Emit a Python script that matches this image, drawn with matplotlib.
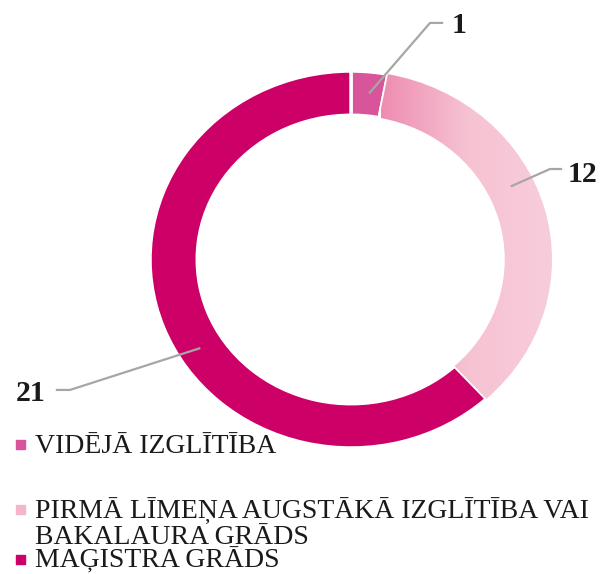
import numpy as np
import matplotlib
matplotlib.use('Agg')
import matplotlib.pyplot as plt
from matplotlib.colors import LinearSegmentedColormap
from matplotlib.patches import Rectangle

# dati
kategorijas = ['VIDĒJĀ IZGLĪTĪBA',
               'PIRMĀ LĪMEŅA AUGSTĀKĀ IZGLĪTĪBA VAI\nBAKALAURA GRĀDS',
               'MAĢISTRA GRĀDS']
vertibas = [1, 12, 21]
krasas = ['#d8559b', '#f4b6cb', '#cc0066']

plt.rcParams['font.family'] = ['Liberation Serif', 'DejaVu Serif']

fig = plt.figure(figsize=(6.07, 5.74), dpi=100)
ax = fig.add_axes([150/607, 126/574, 402/607, 377/574])

wedges, _ = ax.pie(vertibas, colors=krasas, startangle=90, counterclock=False,
                   wedgeprops=dict(width=0.235, edgecolor='white', linewidth=2.5))

# gradients otrajai daļai
grad = LinearSegmentedColormap.from_list('g', ['#ee8cb1', '#f6c2d2', '#f8cddb'])
img = ax.imshow(np.linspace(0, 1, 256).reshape(1, -1), cmap=grad, aspect='auto',
                extent=(0.15, 1.0, -1, 1), zorder=wedges[1].get_zorder())
img.set_clip_path(wedges[1])
wedges[1].set_facecolor('none')
ax.set_aspect('auto')
ax.set_xlim(-1, 1)
ax.set_ylim(-1, 1)
ax.axis('off')

# etiķetes ar līnijām
enkuri = [84, 26, 212]           # leņķis, kur sākas līnija
lauzumi = [(0.393, 1.255), (0.99, 0.48), (-1.398, -0.692)]
beigas = [0.453, 1.045, -1.463]
teksti = [(0.50, 1.20, 'left'), (1.08, 0.41, 'left'), (-1.52, -0.75, 'right')]
for i, v in enumerate(vertibas):
    a = np.deg2rad(enkuri[i])
    x0, y0 = 0.89 * np.cos(a), 0.89 * np.sin(a)
    xe, ye = lauzumi[i]
    ax.plot([x0, xe, beigas[i]], [y0, ye, ye], color='#a6a6a6', lw=1.6,
            clip_on=False, zorder=5)
    tx, ty, ha = teksti[i]
    ax.text(tx, ty, str(v), ha=ha, va='baseline', fontsize=21.5,
            fontweight='bold', color='#1a1a1a', clip_on=False)

# leģenda
leg_y = [453, 518, 568]
for i, nos in enumerate(kategorijas):
    y = 1 - leg_y[i] / 574
    fig.patches.append(Rectangle((16/607, y + 4.5/574), 9/607, 9/574,
                                 transform=fig.transFigure, color=krasas[i]))
    lines = nos.split('\n')
    for j, l in enumerate(lines):
        fig.text(35/607, y - 26/574 * j, l, fontsize=20,
                 color='#1a1a1a', va='baseline')

fig.savefig('out.png', dpi=100)
